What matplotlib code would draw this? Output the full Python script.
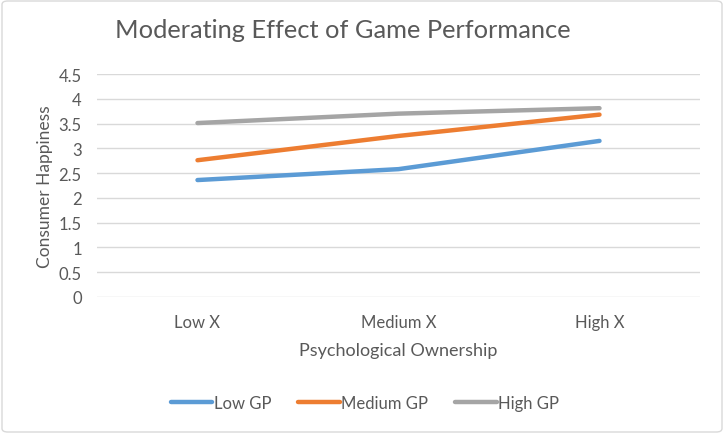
import matplotlib
matplotlib.use("Agg")
import matplotlib.pyplot as plt
from matplotlib.patches import FancyBboxPatch

categories = ["Low X", "Medium X", "High X"]
series_names = ["Low GP", "Medium GP", "High GP"]
low_gp = [2.36, 2.58, 3.15]
medium_gp = [2.76, 3.25, 3.68]
high_gp = [3.51, 3.70, 3.81]
colors = ["#5B9BD5", "#ED7D31", "#A5A5A5"]
yticks = [0, 0.5, 1, 1.5, 2, 2.5, 3, 3.5, 4, 4.5]
ytick_labels = ["0", "0.5", "1", "1.5", "2", "2.5", "3", "3.5", "4", "4.5"]

plt.rcParams['font.family'] = ['Lato', 'DejaVu Sans']
txt = "#595959"

fig = plt.figure(figsize=(7.24, 4.35), dpi=100)
W, H = 724, 435
ax = fig.add_axes([97 / W, 1 - 298 / H, (700 - 97) / W, (298 - 75) / H])

x = list(range(len(categories)))
for vals, name, c in zip([low_gp, medium_gp, high_gp], series_names, colors):
    ax.plot(x, vals, color=c, lw=3.2, solid_capstyle='round', label=name)

ax.set_xlim(-0.5, 2.5)
ax.set_ylim(0, 4.5)
ax.set_yticks(yticks)
ax.set_yticklabels(ytick_labels)
ax.set_xticks(x)
ax.set_xticklabels(categories)
ax.grid(axis='y', color="#D9D9D9", lw=1)
ax.set_axisbelow(True)
for s in ax.spines.values():
    s.set_visible(False)
ax.tick_params(length=0, labelsize=12, colors=txt, pad=11)
ax.tick_params(axis='x', pad=12)
ax.set_ylabel("Consumer Happiness", fontsize=12.5, color=txt, labelpad=4)
ax.set_xlabel("Psychological Ownership", fontsize=13, color=txt, labelpad=9)

fig.text(115 / W, 1 - 30 / H, "Moderating Effect of Game Performance", fontsize=18.3,
         color=txt, va='center', ha='left')

leg = fig.legend(loc='center', bbox_to_anchor=(365 / W, 1 - 404 / H), ncol=3,
                 frameon=False, fontsize=12, handlelength=2.5, handletextpad=0.1,
                 columnspacing=1.6)
for t in leg.get_texts():
    t.set_color(txt)

border = FancyBboxPatch((2 / W, 2 / H), 1 - 4 / W, 1 - 4 / H,
                        boxstyle="round,pad=0,rounding_size=0.008",
                        transform=fig.transFigure, fill=False,
                        edgecolor="#D9D9D9", lw=1)
fig.patches.append(border)

fig.savefig("out.png", dpi=100)
